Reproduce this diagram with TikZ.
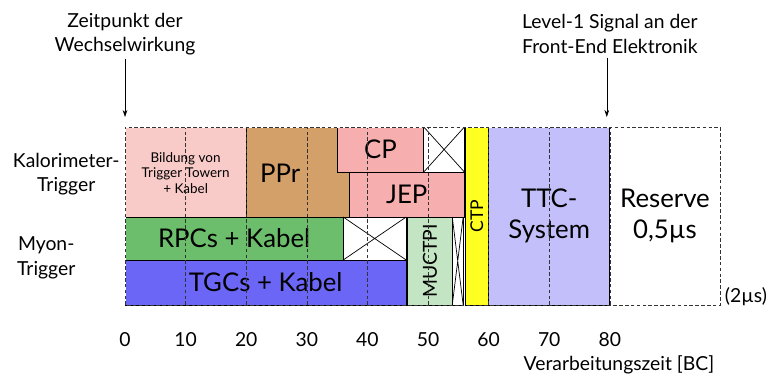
\documentclass[tikz,border=0pt]{standalone}
\usepackage{fontspec}
\setmainfont{Lato}
\usetikzlibrary{arrows.meta}
\definecolor{towerpink}{HTML}{F8CBC9}
\definecolor{pprbrown}{HTML}{D4A06A}
\definecolor{cppink}{HTML}{F7AEAE}
\definecolor{rpcgreen}{HTML}{6CBD6C}
\definecolor{tgcblue}{HTML}{6B66F5}
\definecolor{muctpigreen}{HTML}{C3E5C3}
\definecolor{ctpyellow}{HTML}{FFFF22}
\definecolor{ttclilac}{HTML}{C3BFFB}
\tikzset{
    phase/.style={draw=black, line width=0.6pt},
    grid/.style={black!80, line width=0.5pt, dash pattern=on 3pt off 2pt},
    bigtext/.style={font=\fontsize{22}{26.5}\selectfont, align=center},
    midtext/.style={font=\fontsize{16.5}{21}\selectfont, align=center},
    smalltext/.style={font=\fontsize{11.5}{13.5}\selectfont, align=center},
    marker/.style={-{Stealth[length=6pt, width=4pt]}, line width=0.5pt},
}

\begin{document}
\begin{tikzpicture}[x=0.1818cm, y=0.03cm]
    \useasboundingbox (-20.63, 0) rectangle (106.1, 376);
    % calorimeter chain
    \filldraw[phase, fill=towerpink] (0, 159) rectangle (20, 249);
    \node[smalltext] (tower) at (10, 203)
        {Bildung von\\Trigger Towern\\+ Kabel};
    \filldraw[phase, fill=pprbrown] (20, 159) rectangle (37, 249);
    \node[bigtext] (ppr) at (25.6, 203) {PPr};
    \filldraw[phase, fill=cppink] (35, 204) rectangle (49.3, 249)
        node[midway, bigtext] (cp) {CP};
    \filldraw[phase, fill=cppink] (37, 159) rectangle (56, 204)
        node[midway, bigtext] (jep) {JEP};
    \filldraw[phase, fill=white] (49.3, 204) rectangle (56, 249);
    \draw[phase] (49.3, 204) -- (56, 249) (49.3, 249) -- (56, 204);
    % muon chain
    \filldraw[phase, fill=rpcgreen] (0, 116) rectangle (36, 159)
        node[midway, bigtext] (rpc) {RPCs + Kabel};
    \filldraw[phase, fill=white] (36, 116) rectangle (46.4, 159);
    \draw[phase] (36, 116) -- (46.4, 159) (36, 159) -- (46.4, 116);
    \filldraw[phase, fill=tgcblue] (0, 71) rectangle (46.4, 116)
        node[midway, bigtext] (tgc) {TGCs + Kabel};
    \filldraw[phase, fill=muctpigreen] (46.6, 71) rectangle (54, 159)
        node[midway, midtext, rotate=90] (muctpi) {MUCTPI};
    \filldraw[phase, fill=white] (54, 71) rectangle (55.8, 159);
    \draw[phase] (54, 71) -- (55.8, 159) (54, 159) -- (55.8, 71);
    % common part
    \filldraw[phase, fill=ctpyellow] (56.1, 71) rectangle (60, 249)
        node[midway, font=\fontsize{15}{18}\selectfont, rotate=90] (ctp) {CTP};
    \filldraw[phase, fill=ttclilac] (60, 71) rectangle (80, 249)
        node[midway, bigtext] (ttc) {TTC-\\System};
    \node[bigtext] (reserve) at (89.1, 160) {Reserve\\0,5µs};
    % dashed grid and frame
    \foreach \t in {10, 20, ..., 80}
        \draw[grid] (\t, 71) -- (\t, 249);
    \draw[white, line width=1.2pt] (0, 71) -- (0, 249) -- (98.2, 249);
    \draw[grid] (0, 71) rectangle (98.2, 249);
    \node[midtext, anchor=west] (total) at (98.3, 79) {(2µs)};
    % rows
    \node[midtext] (kalo) at (-9.7, 202) {Kalorimeter-\\Trigger};
    \node[midtext] (myon) at (-13, 118) {Myon-\\Trigger};
    % time axis
    \foreach \t in {0, 10, ..., 80}
        \node[midtext] (tick\t) at (\t, 36) {\t};
    \node[midtext] (axis) at (81.5, 11) {Verarbeitungszeit [BC]};
    % markers
    \coordinate (tstart) at (0, 259);
    \coordinate (tsignal) at (79.5, 259);
    \node[midtext] (zeit) at (0, 342) {Zeitpunkt der\\Wechselwirkung};
    \node[midtext] (levelone) at (80, 342)
        {Level-1 Signal an der\\Front-End Elektronik};
    \draw[marker] (zeit) -- (tstart);
    \draw[marker] (levelone.south -| tsignal) -- (tsignal);
\end{tikzpicture}
\end{document}
